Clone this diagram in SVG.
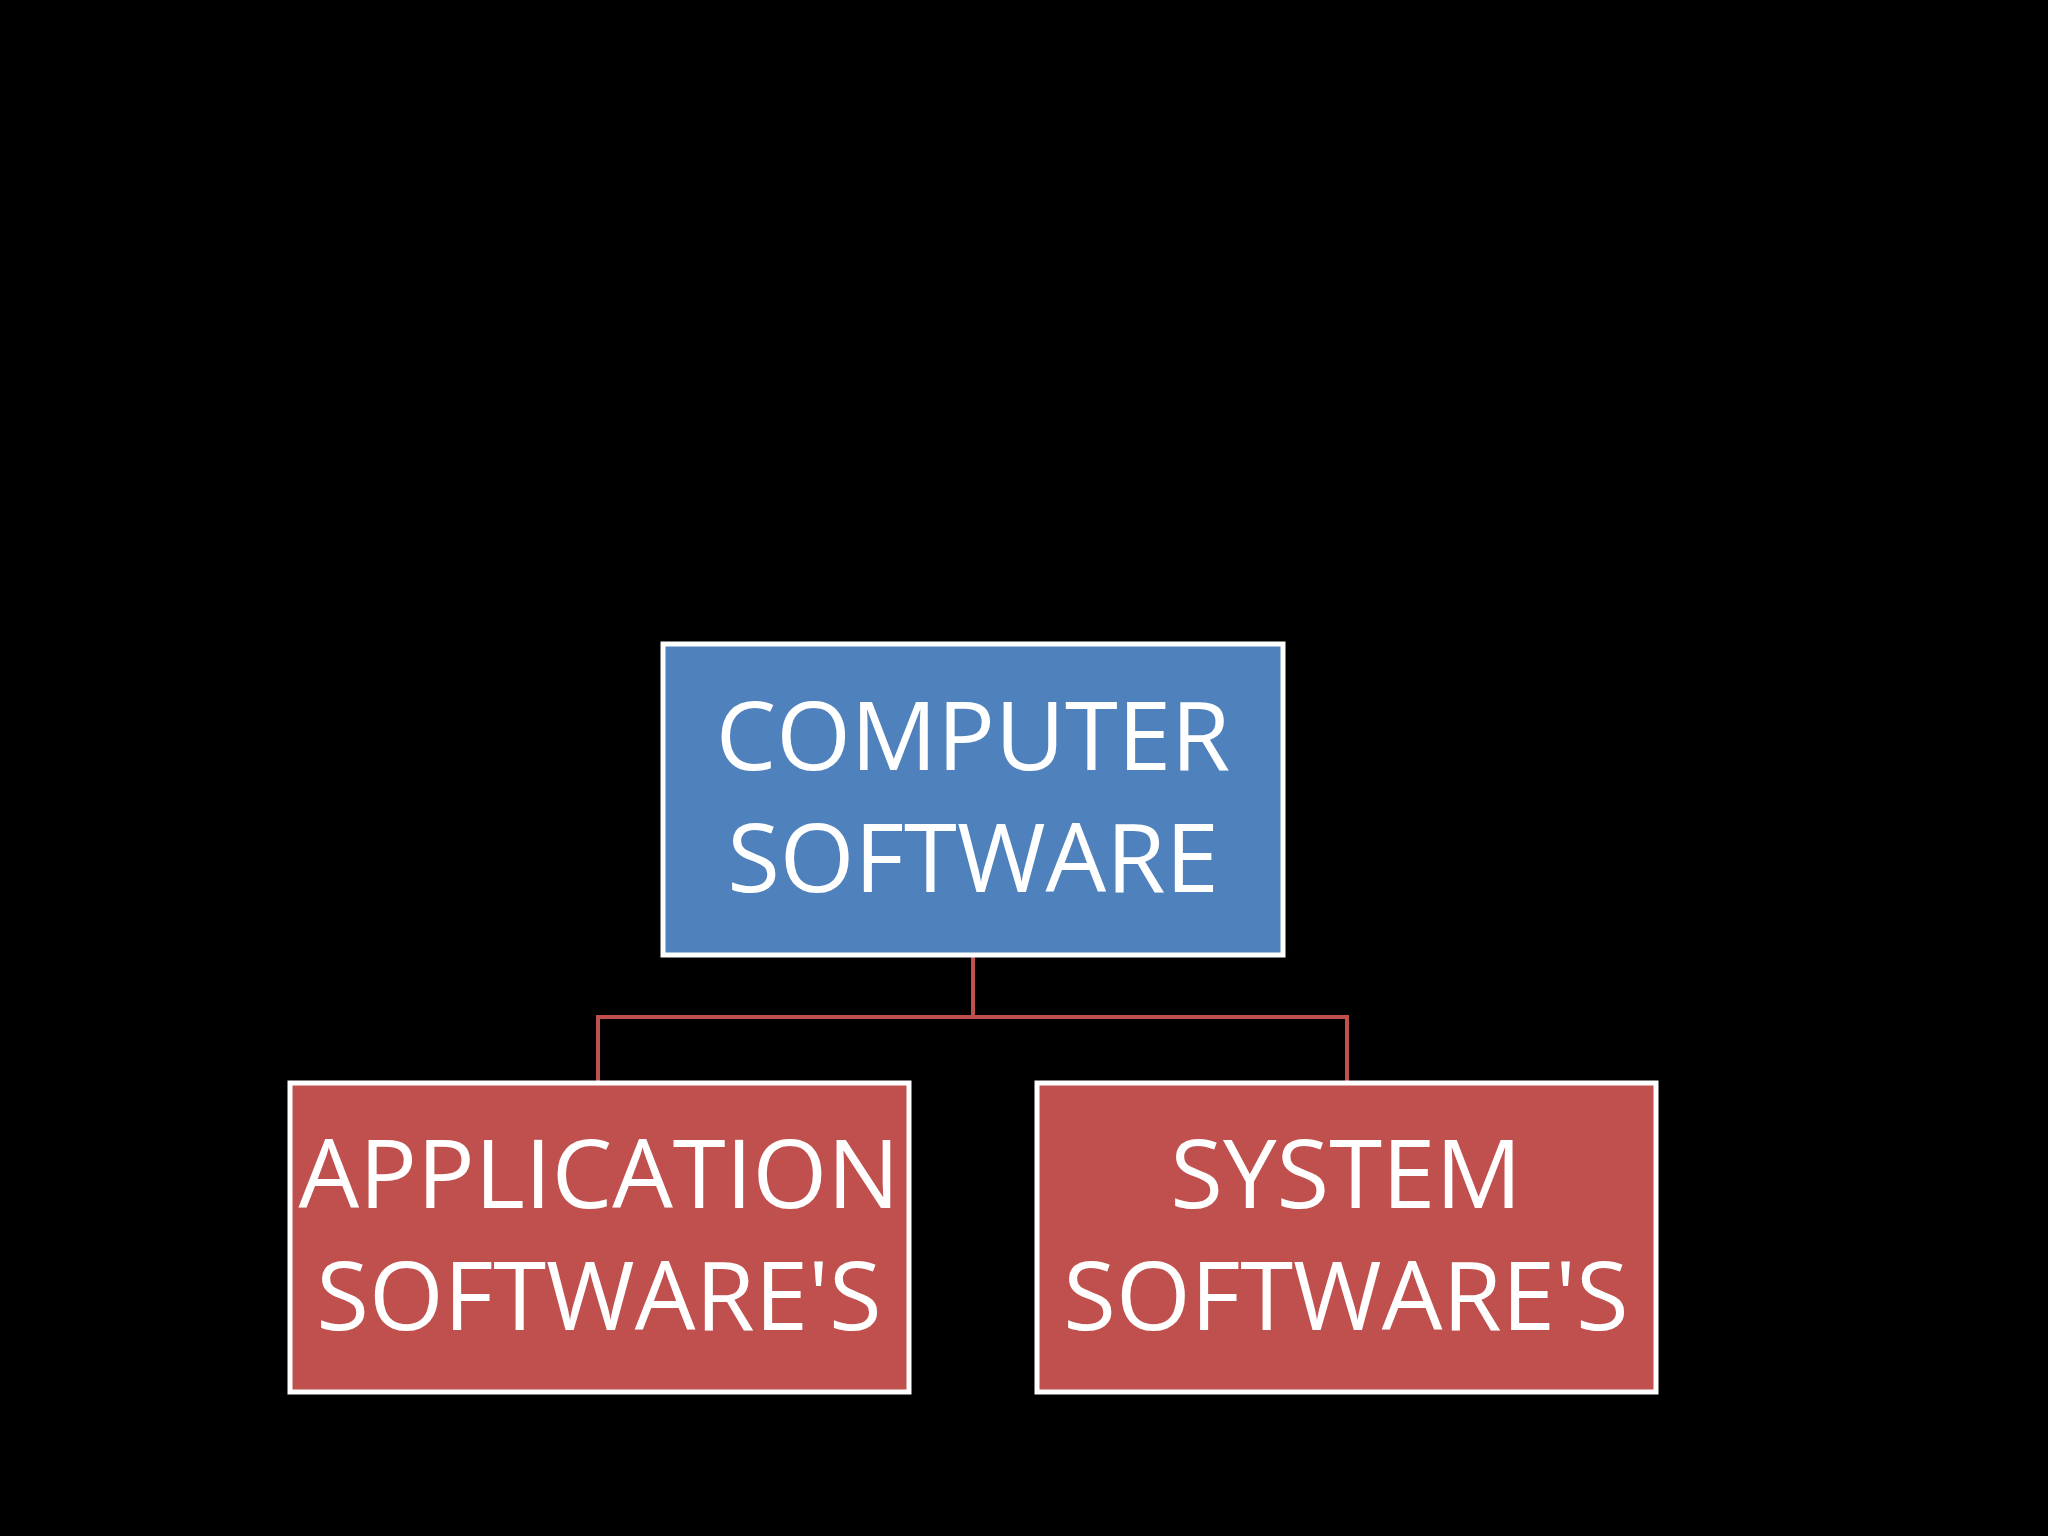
<svg xmlns="http://www.w3.org/2000/svg" width="2048" height="1536" viewBox="0 0 2048 1536">
<style>
.box{stroke:#fff;stroke-width:5}
.t{font-family:"Open Sans","Liberation Sans",sans-serif;font-size:96px;fill:#fff;text-anchor:middle}
.c{stroke:#c0504d;stroke-width:4;fill:none}
</style>
<rect width="2048" height="1536" fill="#000"/>
<g id="connectors">
<path class="c" d="M973 955 V1017 M598 1083 V1017 H1347 V1083"/>
</g>
<g id="computer-software">
<rect class="box" x="663" y="644" width="620" height="311" fill="#4f81bd"/>
<text class="t" x="973" y="770">COMPUTER</text>
<text class="t" x="973" y="892">SOFTWARE</text>
</g>
<g id="application-software">
<rect class="box" x="290" y="1083" width="619" height="309" fill="#c0504d"/>
<text class="t" x="599" y="1208">APPLICATION</text>
<text class="t" x="599" y="1330">SOFTWARE'S</text>
</g>
<g id="system-software">
<rect class="box" x="1037" y="1083" width="619" height="309" fill="#c0504d"/>
<text class="t" x="1346" y="1208">SYSTEM</text>
<text class="t" x="1346" y="1330">SOFTWARE'S</text>
</g>
</svg>
